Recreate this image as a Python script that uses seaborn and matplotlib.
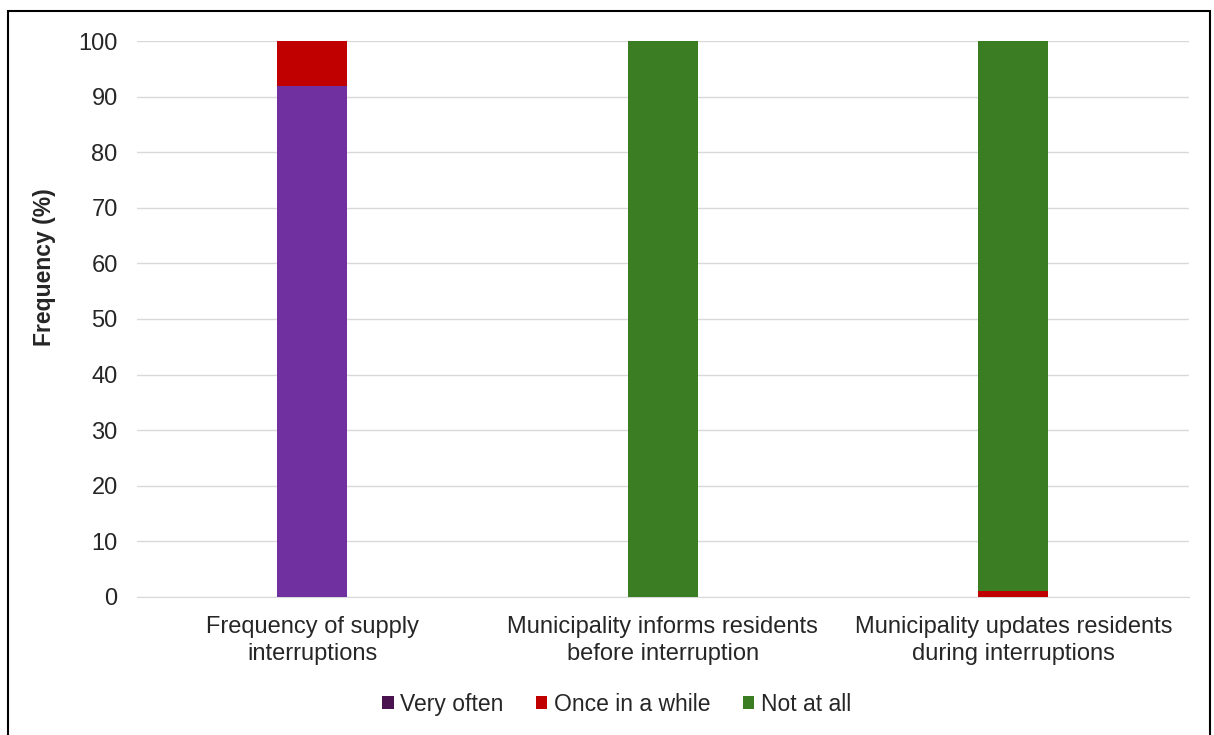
import matplotlib
matplotlib.use("Agg")
import matplotlib.pyplot as plt
import seaborn as sns
import pandas as pd
from matplotlib.patches import Rectangle, Patch

categories = [
    "Frequency of supply\ninterruptions",
    "Municipality informs residents\nbefore interruption",
    "Municipality updates residents\nduring interruptions",
]
very_often = [92, 0, 0]
once_in_a_while = [8, 0, 1]
not_at_all = [0, 100, 99]

series_names = ["Very often", "Once in a while", "Not at all"]
bar_colors = ["#7030A0", "#C00000", "#3A7D22"]
legend_colors = ["#4B1250", "#C00000", "#3A7D22"]

sns.set_style("white")
plt.rcParams["font.family"] = ["Liberation Sans", "DejaVu Sans"]

df = pd.DataFrame({
    "category": categories,
    "very": very_often,
    "once": once_in_a_while,
    "not": not_at_all,
})
df["cum1"] = df["very"]
df["cum2"] = df["cum1"] + df["once"]
df["cum3"] = df["cum2"] + df["not"]

fig = plt.figure(figsize=(12.14, 7.35), dpi=100)
ax = fig.add_axes([0.113, 0.188, 0.866, 0.756])

# stacked bars drawn as cumulative totals, top layer first
for col, color in zip(["cum3", "cum2", "cum1"], bar_colors[::-1]):
    sns.barplot(data=df, x="category", y=col, color=color, width=0.2,
                saturation=1, linewidth=0, ax=ax, zorder=3)

ax.set_ylim(0, 100)
ax.set_yticks(range(0, 101, 10))
ax.yaxis.grid(True, color="#d9d9d9", linewidth=1, zorder=0)
ax.set_axisbelow(True)
for side in ["top", "right", "left"]:
    ax.spines[side].set_visible(False)
ax.spines["bottom"].set_color("#d9d9d9")
ax.tick_params(axis="y", length=0, labelsize=17, colors="#262626", pad=14)
ax.tick_params(axis="x", length=0, labelsize=17, colors="#262626", pad=13.5)
for lbl in ax.get_xticklabels():
    lbl.set_linespacing(1.3)
ax.set_xlabel("")
ax.set_ylabel("Frequency (%)", fontsize=16.5, fontweight="bold")
ax.yaxis.label.set_va("center")
ax.yaxis.set_label_coords((44 - 137) / 1051, (597 - 267) / 556)

handles = [Patch(facecolor=c, edgecolor="none") for c in legend_colors]
fig.legend(handles, series_names, loc="center", bbox_to_anchor=(0.508, 0.042),
           ncol=3, frameon=False, fontsize=16.5, handlelength=0.5, handleheight=0.5,
           handletextpad=0.3, columnspacing=1.4, labelcolor="#262626")

fig.patches.append(Rectangle((8 / 1214, -0.01), 1202 / 1214, 1 - 11 / 735 + 0.01,
                             transform=fig.transFigure, fill=False,
                             edgecolor="black", linewidth=1.5))

fig.savefig("out.png", dpi=100)
